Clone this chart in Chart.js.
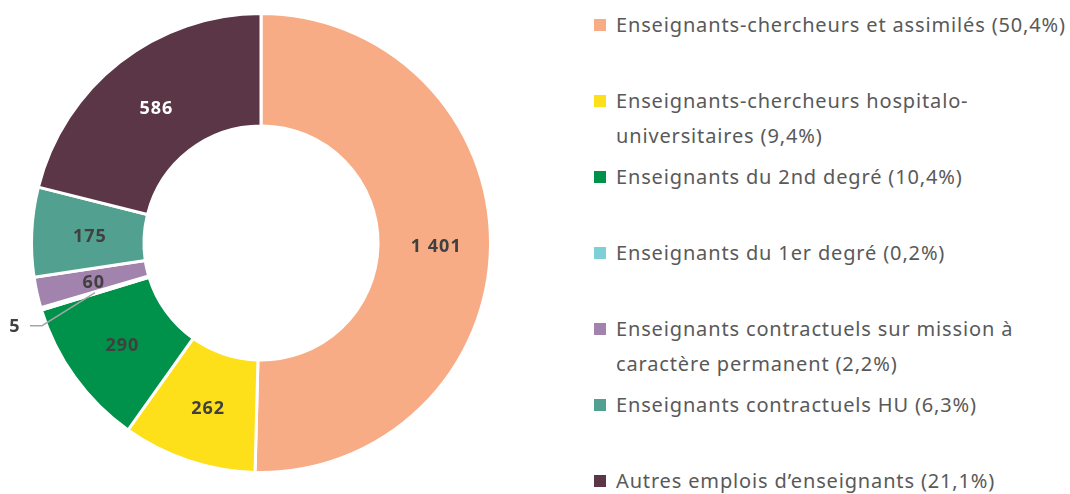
<!DOCTYPE html>
<html>
<head>
<meta charset="utf-8">
<script src="https://cdn.jsdelivr.net/npm/chart.js@4"></script>
<style>
  body { margin: 0; background: #fff; width: 1070px; height: 494px; overflow: hidden; position: relative; font-family: "Noto Sans", sans-serif; }
  .chart-box { position: absolute; left: 0; top: 0; width: 522px; height: 486px; }
  .legend { position: absolute; left: 594px; top: 0; }
  .item { position: absolute; left: 0; width: 476px; font-size: 20px; letter-spacing: 0.85px; line-height: 35px; color: #595959; padding-left: 22px; white-space: nowrap; }
  .item span.box { position: absolute; left: 0; top: 12px; width: 12px; height: 12px; }
</style>
</head>
<body>
<div class="chart-box"><canvas id="myChart"></canvas></div>
<div class="legend" id="legend"></div>
<script>
// donnees
const categories = [
  "Enseignants-chercheurs et assimilés",
  "Enseignants-chercheurs hospitalo-<br>universitaires",
  "Enseignants du 2nd degré",
  "Enseignants du 1er degré",
  "Enseignants contractuels sur mission à<br>caractère permanent",
  "Enseignants contractuels HU",
  "Autres emplois d’enseignants"
];
const values = [1401, 262, 290, 5, 60, 175, 586];
const percents = ["50,4%", "9,4%", "10,4%", "0,2%", "2,2%", "6,3%", "21,1%"];
const colors = ["#F8AC85", "#FDE019", "#00914A", "#7FCFD6", "#A283AE", "#52A08F", "#5B3646"];
const labelColors = ["#404040", "#404040", "#404040", "#404040", "#404040", "#404040", "#ffffff"];

// legende html
let legendHtml = "";
for (let i = 0; i < categories.length; i++) {
  legendHtml += '<div class="item" style="top:' + (7 + i * 76) + 'px"><span class="box" style="background:' + colors[i] + '"></span>' +
    categories[i] + " (" + percents[i] + ")</div>";
}
document.getElementById("legend").innerHTML = legendHtml;

function fmt(v) {
  return String(v).replace(/\B(?=(\d{3})+(?!\d))/g, " ");
}

// etiquettes sur les parts
const labelPlugin = {
  id: "labels",
  afterDatasetsDraw(chart) {
    const ctx = chart.ctx;
    const arcs = chart.getDatasetMeta(0).data;
    ctx.save();
    ctx.font = "bold 18px 'Noto Sans'";
    ctx.letterSpacing = "1px";
    ctx.textAlign = "center";
    ctx.textBaseline = "middle";
    arcs.forEach(function(arc, i) {
      const p = arc.getProps(["x", "y", "startAngle", "endAngle", "innerRadius", "outerRadius"], true);
      const mid = (p.startAngle + p.endAngle) / 2;
      const r = (p.innerRadius + p.outerRadius) / 2;
      const px = p.x + Math.cos(mid) * r;
      const py = p.y + Math.sin(mid) * r;
      ctx.fillStyle = labelColors[i];
      if (values[i] < 20) {
        // petite part: trait de rappel
        ctx.strokeStyle = "#a6a6a6";
        ctx.lineWidth = 1.5;
        ctx.beginPath();
        ctx.moveTo(px, py);
        ctx.lineTo(42, py + 33);
        ctx.lineTo(30, py + 33);
        ctx.stroke();
        ctx.fillText(fmt(values[i]), 15, py + 34);
      } else {
        ctx.fillText(fmt(values[i]), px + 2, py + 2);
      }
    });
    ctx.restore();
  }
};

var ctx = document.getElementById("myChart").getContext("2d");
var chart = new Chart(ctx, {
  type: "doughnut",
  data: {
    labels: categories,
    datasets: [
      {
        data: values,
        backgroundColor: colors,
        borderColor: "#ffffff",
        borderWidth: 3
      }
    ]
  },
  options: {
    responsive: true,
    maintainAspectRatio: false,
    animation: false,
    cutout: "51%",
    layout: { padding: { top: 12, bottom: 12 } },
    plugins: {
      legend: { display: false },
      tooltip: { enabled: false }
    }
  },
  plugins: [labelPlugin]
});
</script>
</body>
</html>
